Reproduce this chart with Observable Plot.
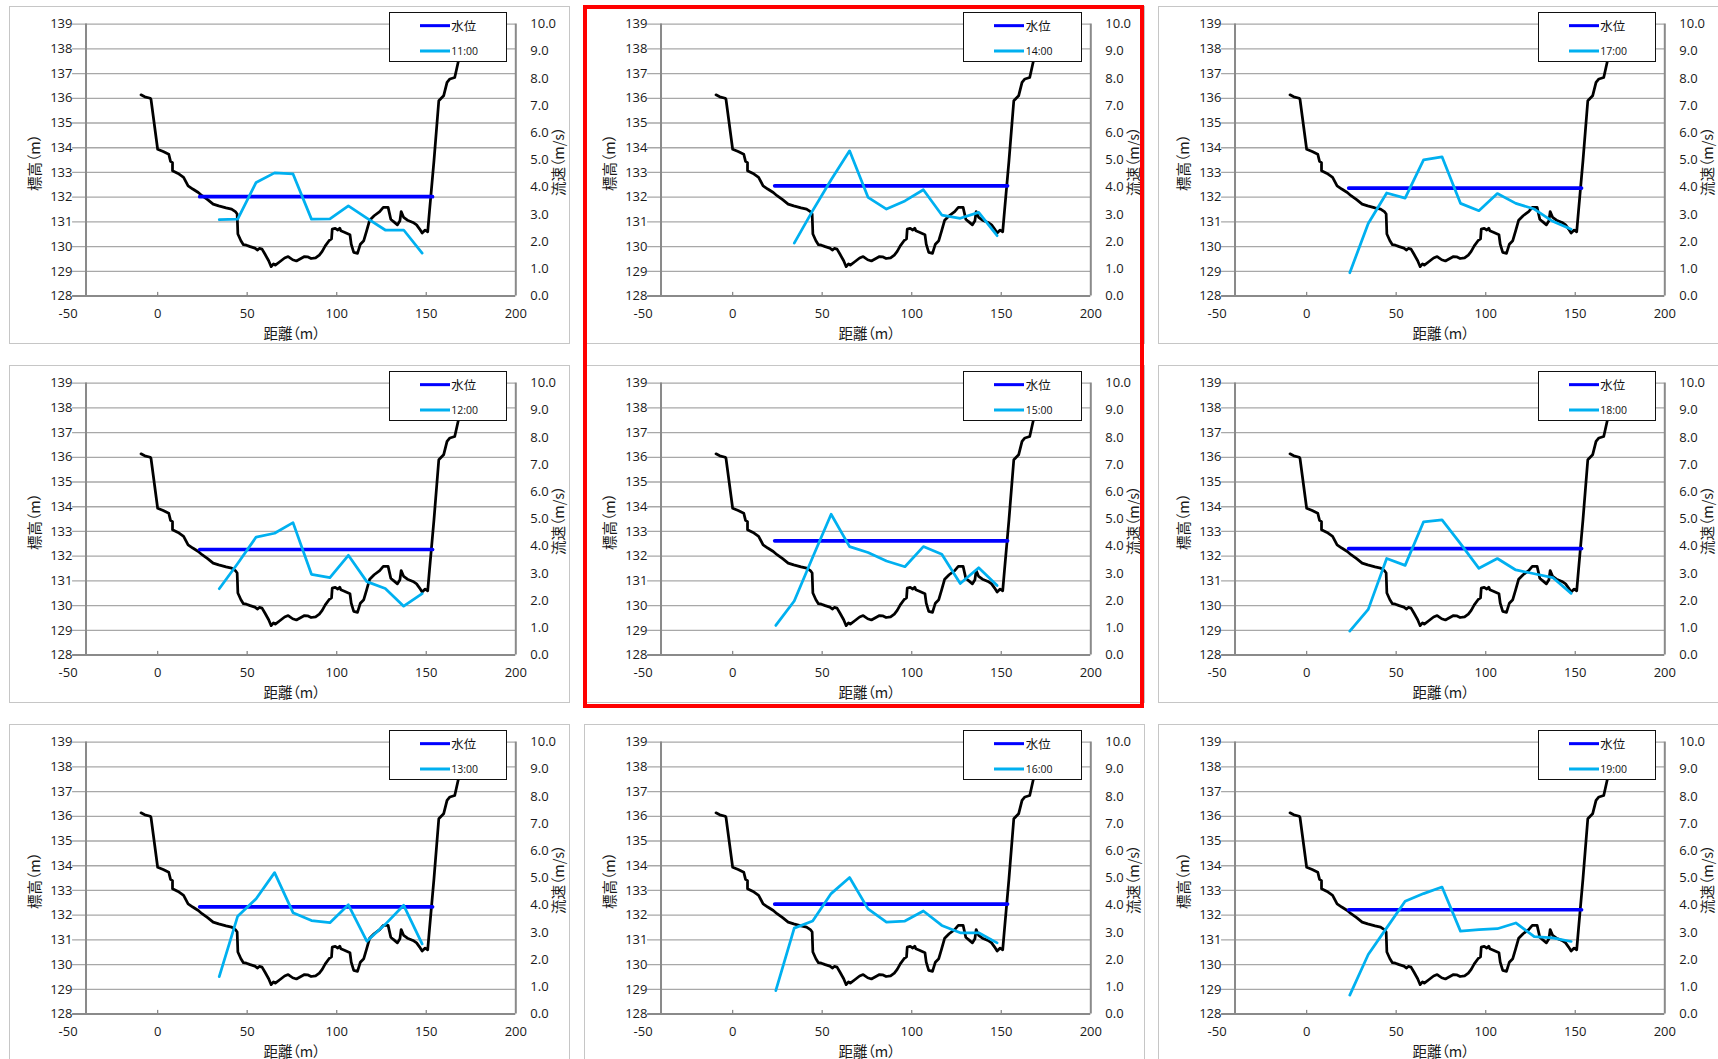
<!DOCTYPE html>
<html lang="ja">
<head>
<meta charset="utf-8">
<script src="https://cdn.jsdelivr.net/npm/d3@7"></script>
<script src="https://cdn.jsdelivr.net/npm/@observablehq/plot@0.6"></script>
<style>
  html, body { margin: 0; padding: 0; background: #fff; }
  body { width: 1718px; height: 1059px; position: relative; overflow: hidden; }
  .panel { position: absolute; width: 561px; height: 338px; }
  .panel svg { position: absolute; left: 0; top: 0; overflow: visible; }
  .panel svg text { font-feature-settings: "palt"; }
  .panel .edge { position: absolute; left: 0; top: 0; width: 561px; height: 338px;
    box-sizing: border-box; border: 1.3px solid #c6c6c6; pointer-events: none; }
  .legend { position: absolute; left: 379.5px; top: 6.6px; width: 118.5px; height: 49.5px;
    box-sizing: border-box; border: 1.3px solid #111; background: #fff; }
  .legend .row { position: absolute; left: 0; right: 0; height: 16px; }
  .legend .swatch { position: absolute; left: 30px; width: 30px; top: 50%; transform: translateY(-50%); }
  .legend .name { position: absolute; left: 61.5px; top: 50%; transform: translateY(-50%);
    color: #111; white-space: nowrap; line-height: 1; }
  .highlight { position: absolute; left: 583px; top: 5px; width: 561px; height: 703.3px;
    box-sizing: border-box; border: 4.7px solid #ff0000; pointer-events: none; }
</style>
</head>
<body>
<script>
// Cross-section bed profile (distance m, elevation m)
const bedDistance = [-9.3, -7.2, -4.1, -3.7, 0, 3.1, 6.2, 7.2, 8.3, 8.3, 11.4, 14.5, 17, 19.6, 22.7, 24.8,
  27.9, 31, 34.1, 38.2, 41.3, 43.4, 44.4, 44.8, 46.5, 47.9, 49.6, 51.7, 54.3, 55.8, 56.8, 58.3, 59.9, 62,
  63.4, 64.7, 65.7, 68.2, 70.9, 72.9, 75.4, 77.5, 79.5, 82, 83.7, 85.7, 88.2, 90.3, 91.9, 93.6, 95.7, 97.1,
  97.5, 99.2, 100.6, 101.7, 102.3, 104.3, 107.4, 108.1, 109.5, 111.6, 113.2, 115.1, 116.7, 118.4, 120.9,
  124, 126, 128.7, 130.2, 131.6, 133.9, 135.3, 136, 137.4, 139.5, 142.6, 144.6, 146.3, 147.7, 149.4, 150.8,
  151.9, 154.3, 157, 159.7, 161.6, 163.2, 165.9, 168.4, 171];
const bedElevation = [136.14, 136.06, 136.0, 135.95, 133.94, 133.85, 133.74, 133.45, 133.4, 133.07, 132.96,
  132.8, 132.46, 132.33, 132.19, 132.06, 131.9, 131.72, 131.65, 131.57, 131.52, 131.42, 131.32, 130.51,
  130.24, 130.08, 130.06, 130.0, 129.94, 129.86, 129.93, 129.9, 129.7, 129.43, 129.19, 129.3, 129.25,
  129.39, 129.54, 129.6, 129.47, 129.42, 129.5, 129.6, 129.59, 129.52, 129.55, 129.66, 129.81, 130.03,
  130.24, 130.31, 130.71, 130.74, 130.67, 130.75, 130.64, 130.58, 130.48, 130.1, 129.77, 129.73, 130.1,
  130.24, 130.64, 131.07, 131.25, 131.42, 131.59, 131.59, 131.11, 131.02, 130.88, 131.05, 131.42, 131.18,
  131.07, 130.98, 130.88, 130.71, 130.55, 130.67, 130.6, 131.52, 133.47, 135.9, 136.1, 136.64, 136.78,
  136.84, 137.65, 139.0];

// Water surface spans the wetted width
const waterEdges = [23.5, 153.5];

// Hourly observations
const times = ["11:00", "12:00", "13:00", "14:00", "15:00", "16:00", "17:00", "18:00", "19:00"];
const waterLevels = [132.02, 132.27, 132.34, 132.46, 132.62, 132.45, 132.37, 132.31, 132.22];

// Velocity verticals (distance m) and velocities (m/s)
const velocityDistance = [24.1, 34.4, 44.7, 55.0, 65.3, 75.6, 85.9, 96.2, 106.5, 116.8, 127.1, 137.4, 147.7];
const velocity1100 = [null, 2.81, 2.83, 4.18, 4.53, 4.49, 2.83, 2.84, 3.32, 2.87, 2.43, 2.43, 1.58];
const velocity1200 = [null, 2.44, 3.37, 4.34, 4.48, 4.87, 2.97, 2.85, 3.67, 2.70, 2.45, 1.80, 2.26];
const velocity1300 = [null, 1.38, 3.60, 4.24, 5.20, 3.73, 3.44, 3.36, 4.02, 2.68, 3.30, 4.00, 2.58];
const velocity1400 = [null, 1.95, 3.14, 4.28, 5.34, 3.63, 3.20, 3.50, 3.91, 2.98, 2.86, 3.08, 2.22];
const velocity1500 = [1.09, 1.99, 3.60, 5.18, 3.99, 3.77, 3.46, 3.25, 3.99, 3.71, 2.63, 3.21, 2.56];
const velocity1600 = [0.86, 3.16, 3.42, 4.43, 5.02, 3.87, 3.38, 3.42, 3.79, 3.26, 2.99, 2.99, 2.62];
const velocity1700 = [0.86, 2.67, 3.79, 3.60, 5.01, 5.12, 3.41, 3.14, 3.77, 3.41, 3.20, 2.75, 2.46];
const velocity1800 = [0.88, 1.68, 3.55, 3.30, 4.90, 4.97, 4.10, 3.19, 3.55, 3.13, 2.99, 2.85, 2.27];
const velocity1900 = [0.70, 2.19, 3.17, 4.15, 4.43, 4.67, 3.05, 3.11, 3.14, 3.35, 2.85, 2.80, 2.67];
const velocities = [velocity1100, velocity1200, velocity1300, velocity1400, velocity1500,
  velocity1600, velocity1700, velocity1800, velocity1900];

// Axis ticks and titles
const distanceTicks = [-50, 0, 50, 100, 150, 200];
const elevationTicks = [128, 129, 130, 131, 132, 133, 134, 135, 136, 137, 138, 139];
const velocityTicks = [0, 1, 2, 3, 4, 5, 6, 7, 8, 9, 10];
const xTitle = "距離（m）";
const yTitle = "標高（m）";
const y2Title = "流速（m/s）";
const levelName = "水位";

// Secondary (velocity) axis shares the frame with the elevation axis
const elevMin = 128, elevMax = 139, velMax = 10;
const velToElev = v => elevMin + v * (elevMax - elevMin) / velMax;
const elevToVel = y => (y - elevMin) * velMax / (elevMax - elevMin);

const gridStart = -47.5;   // gridlines begin just right of the tick labels
const primaryAxisAt = -40; // vertical axis crosses here

const COLORS = { bed: "#000000", level: "#0000ff", velocity: "#00b0f0",
  grid: "#a8a8a8", axis: "#8a8a8a", text: "#1a1a1a" };
const CJK = "'Noto Sans CJK JP', 'Noto Sans', sans-serif";
const TITLE_SIZE = 14.5;

function drawPanel(i) {
  const bed = bedDistance.map((x, k) => ({ x, y: bedElevation[k] }));
  const water = waterEdges.map(x => ({ x, y: waterLevels[i] }));
  const vel = velocityDistance.map((x, k) => ({ x, v: velocities[i][k] })).filter(d => d.v != null);

  return Plot.plot({
    width: 561, height: 338,
    marginLeft: 58.6, marginRight: 54.7, marginTop: 17.6, marginBottom: 48.4,
    x: { domain: [-50, 200], axis: null },
    y: { domain: [elevMin, elevMax], axis: null },
    style: { fontFamily: "'Open Sans', sans-serif", fontSize: "13px", color: COLORS.text,
      background: "transparent", overflow: "visible" },
    marks: [
      Plot.ruleY(elevationTicks.slice(1), { x1: gridStart, x2: 200, stroke: COLORS.grid, strokeWidth: 1.3 }),
      Plot.ruleY([elevMin], { x1: gridStart, x2: 200, stroke: COLORS.axis, strokeWidth: 2 }),
      Plot.ruleX([primaryAxisAt, 200], { y1: elevMin, y2: elevMax, stroke: COLORS.axis, strokeWidth: 2 }),
      Plot.ruleX(distanceTicks.slice(1, -1), { y1: elevMin, y2: elevMin + 0.15, stroke: COLORS.axis, strokeWidth: 1.3 }),
      Plot.axisX(distanceTicks, { tickSize: 0, tickPadding: 12.5, label: null, fill: COLORS.text,
        tickFormat: d => String(d) }),
      Plot.axisY(elevationTicks, { anchor: "left", tickSize: 0, tickPadding: -4.4, label: null, fill: COLORS.text,
        tickFormat: d => String(d) }),
      Plot.axisY(velocityTicks.map(velToElev), { anchor: "right", tickSize: 0, tickPadding: 14.5, label: null,
        fill: COLORS.text, tickFormat: y => elevToVel(y).toFixed(1) }),
      Plot.text([yTitle], { frameAnchor: "left", dx: -32.6, dy: 2.4, rotate: -90, textAnchor: "middle",
        lineAnchor: "middle", fontFamily: CJK, fontSize: TITLE_SIZE, fill: COLORS.text }),
      Plot.text([y2Title], { frameAnchor: "right", dx: 43.1, dy: 1.2, rotate: -90, textAnchor: "middle",
        lineAnchor: "middle", fontFamily: CJK, fontSize: TITLE_SIZE, fill: COLORS.text }),
      Plot.text([xTitle], { frameAnchor: "bottom", dy: 38, textAnchor: "middle", lineAnchor: "middle",
        fontFamily: CJK, fontSize: TITLE_SIZE, fill: COLORS.text }),
      Plot.line(bed, { x: "x", y: "y", stroke: COLORS.bed, strokeWidth: 2.75, strokeLinejoin: "round" }),
      Plot.line(water, { x: "x", y: "y", stroke: COLORS.level, strokeWidth: 3.7 }),
      Plot.line(vel, { x: "x", y: d => velToElev(d.v), stroke: COLORS.velocity, strokeWidth: 2.75,
        strokeLinejoin: "round" })
    ]
  });
}

function legendRow(top, color, thickness, label, font, size) {
  const row = document.createElement("div");
  row.className = "row";
  row.style.top = (top - 8) + "px";
  const sw = document.createElement("span");
  sw.className = "swatch";
  sw.style.background = color;
  sw.style.height = thickness + "px";
  const nm = document.createElement("span");
  nm.className = "name";
  nm.style.fontFamily = font;
  nm.style.fontSize = size + "px";
  nm.textContent = label;
  row.append(sw, nm);
  return row;
}

times.forEach((t, i) => {
  const col = Math.floor(i / 3), row = i % 3;
  const panel = document.createElement("div");
  panel.className = "panel";
  panel.style.left = (9.2 + 574.5 * col) + "px";
  panel.style.top = (5.7 + 359 * row) + "px";
  panel.appendChild(drawPanel(i));

  const legend = document.createElement("div");
  legend.className = "legend";
  legend.append(
    legendRow(12.4, COLORS.level, 3.7, levelName, CJK, 12.5),
    legendRow(37.5, COLORS.velocity, 3, t, "'Open Sans', sans-serif", 10.5)
  );
  panel.appendChild(legend);

  const edge = document.createElement("div");
  edge.className = "edge";
  panel.appendChild(edge);
  document.body.appendChild(panel);
});

const hl = document.createElement("div");
hl.className = "highlight";
document.body.appendChild(hl);
</script>
</body>
</html>
